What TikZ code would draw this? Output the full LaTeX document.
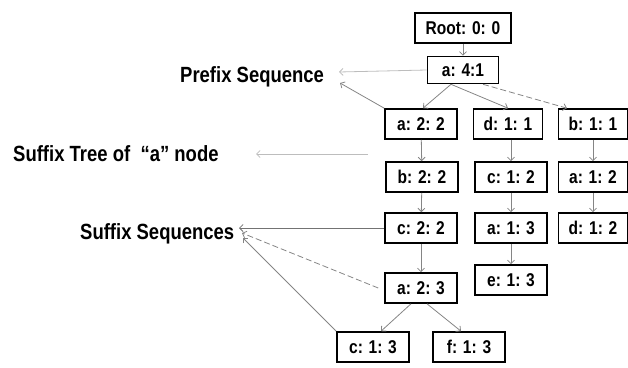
\documentclass[tikz,border=0pt]{standalone}
\usepackage{fontspec}
\setmainfont{Liberation Sans}[FakeStretch=0.84]
\usetikzlibrary{arrows.meta}
\definecolor{edgegray}{HTML}{858585}
\definecolor{lightgray}{HTML}{BDBDBD}
\tikzset{
  treebox/.style={draw=black, line width=1.6pt, fill=white, minimum width=72pt,
    minimum height=30pt, inner sep=0pt, font=\fontsize{18.5}{20}\selectfont\bfseries},
  caption/.style={font=\fontsize{22}{24}\selectfont\bfseries, inner sep=0pt, anchor=west},
  tip/.style={-{Straight Barb[length=3.5pt,width=7pt]}},
  edge/.style={tip, draw=edgegray, line width=0.8pt},
  pointer/.style={tip, draw=lightgray, line width=0.8pt},
}
\begin{document}
\begin{tikzpicture}[x=1pt, y=-1pt]
  \useasboundingbox (0,0) rectangle (628,367);

  % tree nodes
  \node[treebox, minimum width=96pt] (root) at (463,28) {Root: 0: 0};
  \node[treebox, minimum width=71pt, minimum height=27pt] (a41) at (463,70) {a: 4:1};
  \node[treebox] (a22) at (421,124) {a: 2: 2};
  \node[treebox, minimum width=69pt] (d11) at (508,124) {d: 1: 1};
  \node[treebox, minimum width=69pt] (b11) at (593,124) {b: 1: 1};
  \node[treebox] (b22) at (422,177) {b: 2: 2};
  \node[treebox] (c12) at (511,177) {c: 1: 2};
  \node[treebox, minimum width=69pt] (a12) at (593,177) {a: 1: 2};
  \node[treebox] (c22) at (421,228) {c: 2: 2};
  \node[treebox] (a13) at (511,228) {a: 1: 3};
  \node[treebox, minimum width=69pt] (d12) at (593,228) {d: 1: 2};
  \node[treebox] (a23) at (421,288) {a: 2: 3};
  \node[treebox] (e13) at (511,280) {e: 1: 3};
  \node[treebox] (c13) at (373,347) {c: 1: 3};
  \node[treebox] (f13) at (469,347) {f: 1: 3};

  % captions
  \node[caption] (prefix) at (180,77) {Prefix Sequence};
  \node[caption] (stree) at (13,154) {Suffix Tree of \ “a” node};
  \node[caption] (sseq) at (80,234) {Suffix Sequences};

  % tree edges
  \draw[edge] (root) -- (a41);
  \draw[edge] ([xshift=-12pt]a41.south) -- ([xshift=2pt]a22.north);
  \draw[edge] ([xshift=-12pt]a41.south) -- (d11.north);
  \draw[edge, dashed, dash pattern=on 6pt off 3pt] ([xshift=20pt]a41.south) -- ([xshift=-26pt]b11.north);
  \draw[edge] (a22) -- (b22);
  \draw[edge] (b22) -- (c22);
  \draw[edge] (c22) -- (a23);
  \draw[edge] (d11.south -| c12.north) -- (c12.north);
  \draw[edge] (c12) -- (a13);
  \draw[edge] (a13) -- (e13);
  \draw[edge] (b11) -- (a12);
  \draw[edge] (a12) -- (d12);
  \draw[edge] ([xshift=-10pt]a23.south) -- ([xshift=8pt]c13.north);
  \draw[edge] ([xshift=6pt]a23.south) -- ([xshift=-8pt]f13.north);

  % pointers from the tree to the captions
  \coordinate (prefixtip) at (339,72);
  \coordinate (prefixtip2) at (340,83);
  \draw[pointer] (a41.west) -- (prefixtip);
  \draw[edge] (a22.north west) -- (prefixtip2);
  \coordinate (streestart) at (368,154);
  \coordinate (streetip) at (256,154);
  \draw[pointer] (streestart) -- (streetip);
  \coordinate (sseqtip) at (239,228);
  \coordinate (sseqtip2) at (242,233);
  \coordinate (sseqtip3) at (243,238);
  \draw[edge, draw=gray!90!black] (c22.west) -- (sseqtip);
  \draw[edge, dashed, dash pattern=on 6pt off 3pt] ([xshift=-6pt]a23.west) -- (sseqtip2);
  \draw[edge] (c13.north west) -- (sseqtip3);
\end{tikzpicture}
\end{document}
